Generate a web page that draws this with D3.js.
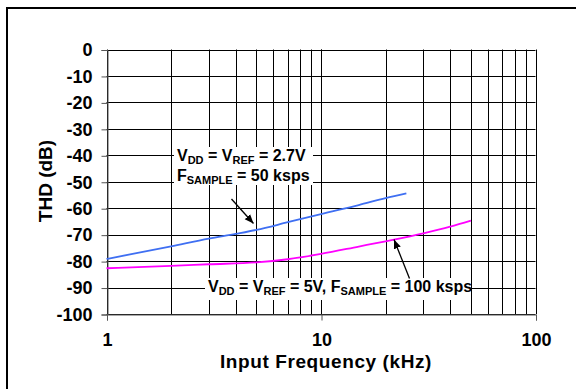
<!DOCTYPE html>
<html>
<head>
<meta charset="utf-8">
<script src="https://cdn.jsdelivr.net/npm/d3@7"></script>
<style>
body { margin: 0; background: #fff; }
svg { display: block; font-family: Arial, "Liberation Sans", sans-serif; font-weight: bold; }
</style>
</head>
<body>
<svg width="576" height="389"></svg>
<script>
// frequency in kHz, THD in dB
var freqLow = [1, 2, 3, 4, 5, 7, 10, 15, 20, 25];
var thdLow = [-79.2, -74.4, -71.5, -69.7, -68.2, -65.3, -62.2, -58.8, -56.2, -54.4];

var freqHigh = [1, 2, 3, 5, 7, 10, 15, 20, 30, 40, 50];
var thdHigh = [-82.7, -81.8, -81.2, -80.5, -79.3, -77.3, -74.5, -72.5, -69.5, -67, -64.7];

var yTicks = [0, -10, -20, -30, -40, -50, -60, -70, -80, -90, -100];
var xTicks = [1, 10, 100];

var svg = d3.select('svg');

// frame (only top and left edge show)
svg.append('rect')
    .attr('x', 7).attr('y', 8)
    .attr('width', 600).attr('height', 400)
    .attr('fill', 'none')
    .attr('stroke', '#000')
    .attr('stroke-width', 2);

var x = d3.scaleLog().domain([1, 100]).range([106.5, 535.5]);
var y = d3.scaleLinear().domain([-100, 0]).range([314, 49.5]);

var g = svg.append('g');

// grid
var minor = [];
for (var d = 1; d < 100; d *= 10) {
    for (var k = 1; k <= 10; k++) minor.push(d * k);
}
g.selectAll('.vgrid').data(minor).enter().append('line')
    .attr('x1', function(d) { return Math.round(x(d)) + 0.5; })
    .attr('x2', function(d) { return Math.round(x(d)) + 0.5; })
    .attr('y1', y(0)).attr('y2', y(-100))
    .attr('stroke', '#000').attr('stroke-width', 1);

g.selectAll('.hgrid').data(yTicks).enter().append('line')
    .attr('x1', x(1)).attr('x2', x(100))
    .attr('y1', function(d) { return Math.round(y(d)) + 0.5; })
    .attr('y2', function(d) { return Math.round(y(d)) + 0.5; })
    .attr('stroke', '#000').attr('stroke-width', 1);

// axes
var yAxis = g.append('g')
    .attr('transform', 'translate(' + (Math.round(x(1)) + 0.5) + ',0.5)')
    .call(d3.axisLeft(y).tickValues(yTicks).tickSize(6).tickPadding(9).tickFormat(String));
yAxis.select('.domain').attr('stroke', '#555');
yAxis.selectAll('.tick line').attr('stroke', '#555');
yAxis.selectAll('text').attr('font-size', 18).attr('font-weight', 'bold').attr('fill', '#000')
    .attr('font-family', 'Arial, "Liberation Sans", sans-serif');

var xAxis = g.append('g')
    .attr('transform', 'translate(0.5,' + (Math.round(y(-100)) + 0.5) + ')')
    .call(d3.axisBottom(x).tickValues(xTicks).tickSize(6).tickPadding(13).tickFormat(String));
xAxis.select('.domain').attr('stroke', '#555');
xAxis.selectAll('.tick line').attr('stroke', '#555');
xAxis.selectAll('text').attr('font-size', 18).attr('font-weight', 'bold').attr('fill', '#000')
    .attr('font-family', 'Arial, "Liberation Sans", sans-serif');

svg.append('text')
    .attr('x', 326).attr('y', 368)
    .attr('text-anchor', 'middle')
    .attr('font-size', 19)
    .attr('letter-spacing', 0.6)
    .text('Input Frequency (kHz)');

svg.append('text')
    .attr('transform', 'translate(52,181) rotate(-90)')
    .attr('text-anchor', 'middle')
    .attr('font-size', 19)
    .text('THD (dB)');

// curves
var line = d3.line()
    .x(function(d) { return x(d[0]); })
    .y(function(d) { return y(d[1]); })
    .curve(d3.curveMonotoneX);

g.append('path')
    .datum(d3.zip(freqLow, thdLow))
    .attr('fill', 'none')
    .attr('stroke', '#3f6ff2')
    .attr('stroke-width', 1.8)
    .attr('d', line);

g.append('path')
    .datum(d3.zip(freqHigh, thdHigh))
    .attr('fill', 'none')
    .attr('stroke', '#ff00ff')
    .attr('stroke-width', 1.8)
    .attr('d', line);

// annotations
svg.append('defs').append('marker')
    .attr('id', 'arr')
    .attr('viewBox', '0 0 10 10')
    .attr('refX', 10).attr('refY', 5)
    .attr('markerWidth', 7).attr('markerHeight', 7)
    .attr('orient', 'auto')
    .append('path').attr('d', 'M0,1 L10,5 L0,9 Z').attr('fill', '#000');

function whiteBox(x0, y0, w, h) {
    svg.append('rect')
        .attr('x', x0).attr('y', y0)
        .attr('width', w).attr('height', h)
        .attr('fill', '#fff');
}

whiteBox(174, 147, 139, 38);
var t1 = svg.append('text').attr('x', 177).attr('y', 161).attr('font-size', 16);
t1.append('tspan').text('V');
t1.append('tspan').attr('font-size', 11).attr('dy', 3).text('DD');
t1.append('tspan').attr('dy', -3).text(' = V');
t1.append('tspan').attr('font-size', 11).attr('dy', 3).text('REF');
t1.append('tspan').attr('dy', -3).text(' = 2.7V');

var t2 = svg.append('text').attr('x', 177).attr('y', 181).attr('font-size', 16);
t2.append('tspan').text('F');
t2.append('tspan').attr('font-size', 11).attr('dy', 3).text('SAMPLE');
t2.append('tspan').attr('dy', -3).text(' = 50 ksps');

whiteBox(205, 278, 266, 22);
var t3 = svg.append('text').attr('x', 208).attr('y', 292).attr('font-size', 16);
t3.append('tspan').text('V');
t3.append('tspan').attr('font-size', 11).attr('dy', 3).text('DD');
t3.append('tspan').attr('dy', -3).text(' = V');
t3.append('tspan').attr('font-size', 11).attr('dy', 3).text('REF');
t3.append('tspan').attr('dy', -3).text(' = 5V, F');
t3.append('tspan').attr('font-size', 11).attr('dy', 3).text('SAMPLE');
t3.append('tspan').attr('dy', -3).text(' = 100 ksps');

svg.append('line')
    .attr('x1', 231.5).attr('y1', 199)
    .attr('x2', 253.5).attr('y2', 223.5)
    .attr('stroke', '#000').attr('stroke-width', 1.3)
    .attr('marker-end', 'url(#arr)');

svg.append('line')
    .attr('x1', 409.5).attr('y1', 278.5)
    .attr('x2', 394).attr('y2', 239.5)
    .attr('stroke', '#000').attr('stroke-width', 1.3)
    .attr('marker-end', 'url(#arr)');
</script>
</body>
</html>
